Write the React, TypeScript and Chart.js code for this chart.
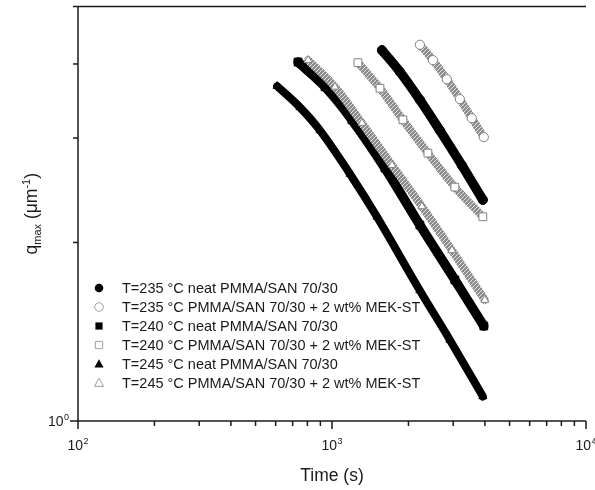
import React, { useEffect, useRef } from 'react';
import { Chart, registerables } from 'chart.js';

Chart.register(...registerables);

// ---- data (time in s, q_max in µm^-1) ----
const seriesLabels = [
  'T=235 °C neat PMMA/SAN 70/30',
  'T=235 °C PMMA/SAN 70/30 + 2 wt% MEK-ST',
  'T=240 °C neat PMMA/SAN 70/30',
  'T=240 °C PMMA/SAN 70/30 + 2 wt% MEK-ST',
  'T=245 °C neat PMMA/SAN 70/30',
  'T=245 °C PMMA/SAN 70/30 + 2 wt% MEK-ST',
];

const t235NeatX = [1573, 1851, 2218, 2659, 3245, 3925];
const t235NeatY = [4.22, 3.88, 3.48, 3.09, 2.70, 2.36];

const t235MekX = [2218, 2496, 2833, 3187, 3552, 3960];
const t235MekY = [4.31, 4.06, 3.77, 3.49, 3.24, 3.01];

const t240NeatX = [735, 939, 1198, 1616, 2218, 3045, 3960];
const t240NeatY = [4.03, 3.66, 3.22, 2.67, 2.14, 1.73, 1.446];

const t240MekX = [1265, 1545, 1902, 2385, 3045, 3925];
const t240MekY = [4.02, 3.64, 3.22, 2.83, 2.48, 2.21];

const t245NeatX = [608, 748, 897, 1177, 1503, 2218, 2911, 3925];
const t245NeatY = [3.67, 3.38, 3.09, 2.61, 2.21, 1.66, 1.37, 1.10];

const t245MekX = [805, 1027, 1312, 1722, 2259, 2965, 3997];
const t245MekY = [4.06, 3.66, 3.18, 2.70, 2.30, 1.94, 1.60];

const xMajorTicks = [100, 1000, 10000];
const xMinorMultipliers = [2, 3, 4, 5, 6, 7, 8, 9];
const yMajorTicks = [1];
const yMinorTicks = [2, 3, 4, 5];
const xRange = [100, 10000];
const yRange = [1, 5];

const xTitle = 'Time (s)';

const FONT = '"Liberation Sans", Arial, Helvetica, sans-serif';
const BLACK = '#000000';
const GREY_EDGE = '#858585';

type Style = 'circle' | 'rect' | 'triangle';
const seriesStyles: { style: Style; filled: boolean }[] = [
  { style: 'circle', filled: true },
  { style: 'circle', filled: false },
  { style: 'rect', filled: true },
  { style: 'rect', filled: false },
  { style: 'triangle', filled: true },
  { style: 'triangle', filled: false },
];

const seriesX = [t235NeatX, t235MekX, t240NeatX, t240MekX, t245NeatX, t245MekX];
const seriesY = [t235NeatY, t235MekY, t240NeatY, t240MekY, t245NeatY, t245MekY];

function drawMarker(ctx: CanvasRenderingContext2D, style: Style, filled: boolean, x: number, y: number) {
  ctx.save();
  ctx.beginPath();
  if (style === 'circle') {
    ctx.arc(x, y, 4.3, 0, Math.PI * 2);
  } else if (style === 'rect') {
    ctx.rect(x - 3.6, y - 3.6, 7.2, 7.2);
  } else {
    ctx.moveTo(x, y - 4.8);
    ctx.lineTo(x + 4.6, y + 3.4);
    ctx.lineTo(x - 4.6, y + 3.4);
    ctx.closePath();
  }
  if (filled) {
    ctx.fillStyle = BLACK;
    ctx.fill();
  } else {
    ctx.fillStyle = '#ffffff';
    ctx.fill();
    ctx.strokeStyle = '#a0a0a0';
    ctx.lineWidth = 1;
    ctx.stroke();
  }
  ctx.restore();
}

function drawPow(ctx: CanvasRenderingContext2D, base: string, exp: string, x: number, yBase: number, align: 'center' | 'right') {
  ctx.font = `14px ${FONT}`;
  const wb = ctx.measureText(base).width;
  ctx.font = `9px ${FONT}`;
  const we = ctx.measureText(exp).width;
  const total = wb + we + 0.5;
  const x0 = align === 'center' ? x - total / 2 : x - total;
  ctx.textAlign = 'left';
  ctx.textBaseline = 'alphabetic';
  ctx.fillStyle = '#1a1a1a';
  ctx.font = `14px ${FONT}`;
  ctx.fillText(base, x0, yBase);
  ctx.font = `9px ${FONT}`;
  ctx.fillText(exp, x0 + wb + 0.5, yBase - 6);
}

type Part = { t: string; size: number; dy: number };
function drawRich(ctx: CanvasRenderingContext2D, parts: Part[], cx: number, yBase: number) {
  let total = 0;
  const widths = parts.map((p) => {
    ctx.font = `${p.size}px ${FONT}`;
    const w = ctx.measureText(p.t).width;
    total += w;
    return w;
  });
  let x = cx - total / 2;
  ctx.textAlign = 'left';
  ctx.textBaseline = 'alphabetic';
  ctx.fillStyle = '#1a1a1a';
  parts.forEach((p, i) => {
    ctx.font = `${p.size}px ${FONT}`;
    ctx.fillText(p.t, x, yBase + p.dy);
    x += widths[i];
  });
}

const overlayPlugin = {
  id: 'overlay',
  afterDraw(chart: any) {
    const ctx: CanvasRenderingContext2D = chart.ctx;
    const a = chart.chartArea;
    const xs = chart.scales.x;
    const ys = chart.scales.y;
    ctx.save();
    ctx.strokeStyle = '#1a1a1a';
    ctx.lineWidth = 1.5;
    const seg = (x1: number, y1: number, x2: number, y2: number) => {
      ctx.beginPath();
      ctx.moveTo(x1, y1);
      ctx.lineTo(x2, y2);
      ctx.stroke();
    };
    // frame
    seg(a.left, a.top, a.left, a.bottom);
    seg(a.left, a.bottom, a.right, a.bottom);
    seg(a.left, a.top, a.right, a.top);

    // x ticks
    xMajorTicks.forEach((v, i) => {
      const px = xs.getPixelForValue(v);
      seg(px, a.bottom, px, a.bottom + 8);
      drawPow(ctx, '10', String(Math.round(Math.log10(v))), px, 450, 'center');
      if (i < xMajorTicks.length - 1) {
        xMinorMultipliers.forEach((m) => {
          const mx = xs.getPixelForValue(v * m);
          seg(mx, a.bottom, mx, a.bottom + 5);
        });
      }
    });
    // y ticks
    yMajorTicks.forEach((v) => {
      const py = ys.getPixelForValue(v);
      seg(a.left - 8, py, a.left, py);
      drawPow(ctx, '10', String(Math.round(Math.log10(v))), a.left - 9, py + 5, 'right');
    });
    yMinorTicks.forEach((v) => {
      const py = ys.getPixelForValue(v);
      seg(a.left - 5, py, a.left, py);
    });

    // axis titles
    ctx.font = `17.5px ${FONT}`;
    ctx.fillStyle = '#1a1a1a';
    ctx.textAlign = 'center';
    ctx.textBaseline = 'alphabetic';
    ctx.fillText(xTitle, (a.left + a.right) / 2, 481);

    ctx.save();
    ctx.translate(37, (a.top + a.bottom) / 2);
    ctx.rotate(-Math.PI / 2);
    drawRich(
      ctx,
      [
        { t: 'q', size: 17.5, dy: 0 },
        { t: 'max', size: 11, dy: 4 },
        { t: ' (\u03bcm', size: 17.5, dy: 0 },
        { t: '-1', size: 11, dy: -7 },
        { t: ')', size: 17.5, dy: 0 },
      ],
      0,
      0
    );
    ctx.restore();

    // legend
    seriesLabels.forEach((label, i) => {
      const ly = 288 + 19 * i;
      drawMarker(ctx, seriesStyles[i].style, seriesStyles[i].filled, 99, ly);
      ctx.font = `14.5px ${FONT}`;
      ctx.fillStyle = '#1a1a1a';
      ctx.textAlign = 'left';
      ctx.textBaseline = 'middle';
      ctx.fillText(label, 122, ly + 1);
    });
    ctx.restore();
  },
};

function makeHatch(): CanvasPattern | string {
  const c = document.createElement('canvas');
  c.width = 4;
  c.height = 4;
  const g = c.getContext('2d');
  if (!g) return '#a0a0a0';
  g.fillStyle = '#8c8c8c';
  g.fillRect(0, 0, 4, 4);
  g.strokeStyle = '#e6e6e6';
  g.lineWidth = 1;
  g.beginPath();
  g.moveTo(-1, 5);
  g.lineTo(5, -1);
  g.stroke();
  return g.createPattern(c, 'repeat') || '#a0a0a0';
}

export default function App() {
  const canvasRef = useRef<HTMLCanvasElement | null>(null);

  useEffect(() => {
    document.body.style.margin = '0';
    const canvas = canvasRef.current;
    if (!canvas) return;
    const hatch = makeHatch();

    const datasets = seriesLabels.map((label, i) => {
      const st = seriesStyles[i];
      const filled = st.filled;
      return {
        label,
        data: seriesX[i].map((x, j) => ({ x, y: seriesY[i][j] })),
        showLine: true,
        tension: 0.35,
        borderColor: filled ? BLACK : hatch,
        borderWidth: filled ? (st.style === 'triangle' ? 8 : 9.5) : 8,
        borderCapStyle: 'round' as const,
        pointStyle: st.style,
        pointRadius: st.style === 'rect' ? 5.5 : 4.6,
        pointBackgroundColor: filled ? BLACK : '#ffffff',
        pointBorderColor: filled ? BLACK : GREY_EDGE,
        pointBorderWidth: 1,
        order: seriesLabels.length - i,
      };
    });

    const chart = new Chart(canvas, {
      type: 'scatter',
      data: { datasets },
      options: {
        responsive: false,
        animation: false,
        devicePixelRatio: 1,
        layout: { padding: { top: 6, right: 9, left: 0, bottom: 0 } },
        plugins: {
          legend: { display: false },
          tooltip: { enabled: false },
        },
        scales: {
          x: {
            type: 'logarithmic',
            min: xRange[0],
            max: xRange[1],
            grid: { display: false },
            border: { display: false },
            ticks: { display: false },
            afterFit: (s: any) => {
              s.height = 69;
            },
          },
          y: {
            type: 'logarithmic',
            min: yRange[0],
            max: yRange[1],
            grid: { display: false },
            border: { display: false },
            ticks: { display: false },
            afterFit: (s: any) => {
              s.width = 78;
            },
          },
        },
      },
      plugins: [overlayPlugin],
    } as any);

    return () => chart.destroy();
  }, []);

  return (
    <div style={{ position: 'absolute', left: 0, top: 0, width: 595, height: 490 }}>
      <canvas ref={canvasRef} width={595} height={490} style={{ display: 'block' }} />
    </div>
  );
}
